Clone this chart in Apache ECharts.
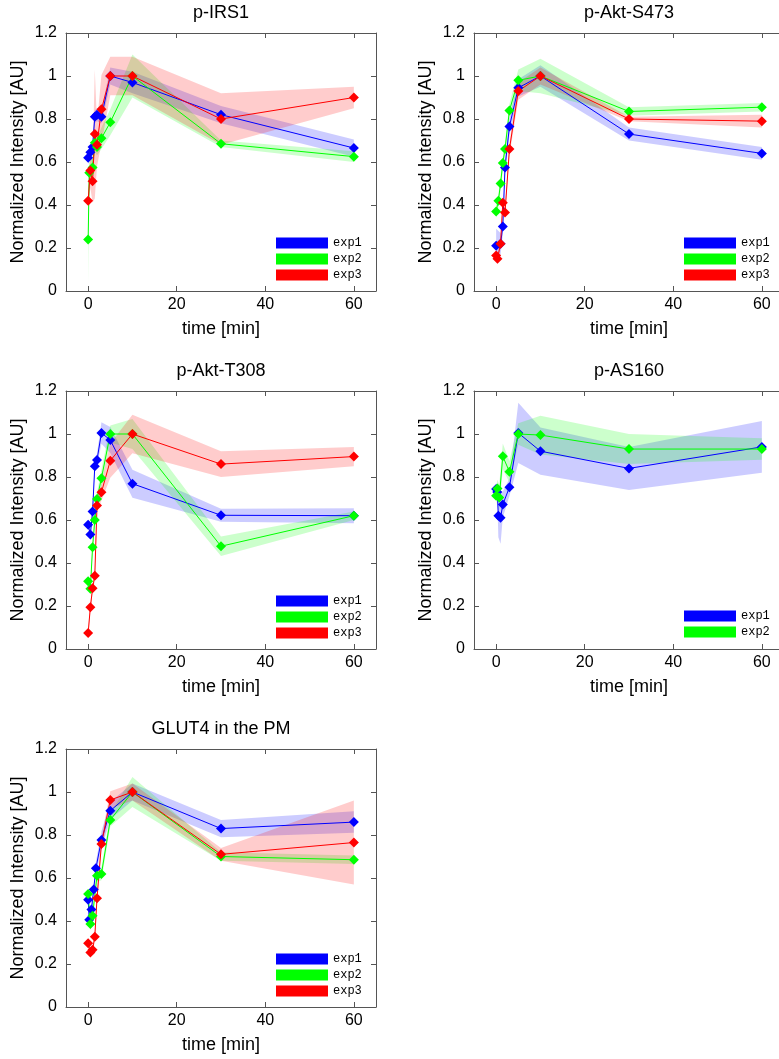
<!DOCTYPE html>
<html>
<head>
<meta charset="utf-8">
<script src="https://cdn.jsdelivr.net/npm/echarts@6/dist/echarts.min.js"></script>
<style>html,body{margin:0;padding:0;background:#fff}#chart{width:779px;height:1059px}</style>
</head>
<body>
<div id="chart"></div>
<script>
// ---- data (time in min, normalized intensity, half-width of shaded band) ----
const panelTitles = ['p-IRS1', 'p-Akt-S473', 'p-Akt-T308', 'p-AS160', 'GLUT4 in the PM'];
const expNames = ['exp1', 'exp2', 'exp3'];
const xTicks = [0, 20, 40, 60];

// p-IRS1
const irs1_t1 = [0, 0.5, 1, 1.5, 2, 3, 5, 10, 30, 60];
const irs1_v1 = [0.62, 0.645, 0.67, 0.81, 0.82, 0.81, 1.0, 0.97, 0.82, 0.665];
const irs1_e1 = [0.03, 0.03, 0.03, 0.03, 0.03, 0.03, 0.04, 0.05, 0.04, 0.04];
const irs1_t2 = [0, 0.25, 1, 1.5, 2, 3, 5, 10, 30, 60];
const irs1_v2 = [0.24, 0.55, 0.575, 0.69, 0.67, 0.71, 0.785, 1.0, 0.685, 0.625];
const irs1_e2 = [0.21, 0.05, 0.05, 0.04, 0.04, 0.05, 0.06, 0.1, 0.015, 0.025];
const irs1_t3 = [0, 0.5, 1, 1.5, 2, 3, 5, 10, 30, 60];
const irs1_v3 = [0.42, 0.56, 0.51, 0.73, 0.68, 0.845, 1.0, 1.0, 0.80, 0.90];
const irs1_e3 = [0.05, 0.08, 0.1, 0.3, 0.1, 0.16, 0.09, 0.09, 0.12, 0.05];

// p-Akt-S473
const s473_t1 = [0, 1, 1.5, 2, 3, 5, 10, 30, 60];
const s473_v1 = [0.21, 0.22, 0.30, 0.575, 0.765, 0.945, 1.0, 0.73, 0.64];
const s473_e1 = [0.08, 0.05, 0.04, 0.04, 0.04, 0.04, 0.05, 0.03, 0.03];
const s473_t2 = [0, 0.5, 1, 1.5, 2, 3, 5, 10, 30, 60];
const s473_v2 = [0.37, 0.42, 0.50, 0.595, 0.66, 0.84, 0.98, 1.0, 0.835, 0.855];
const s473_e2 = [0.03, 0.03, 0.03, 0.03, 0.03, 0.03, 0.05, 0.08, 0.02, 0.02];
const s473_t3 = [0, 0.3, 1, 1.5, 2, 3, 5, 10, 30, 60];
const s473_v3 = [0.165, 0.15, 0.22, 0.41, 0.365, 0.66, 0.93, 1.0, 0.80, 0.79];
const s473_e3 = [0.02, 0.02, 0.02, 0.02, 0.02, 0.03, 0.04, 0.04, 0.01, 0.03];

// p-Akt-T308
const t308_t1 = [0, 0.5, 1, 1.5, 2, 3, 5, 10, 30, 60];
const t308_v1 = [0.578, 0.532, 0.64, 0.85, 0.879, 1.005, 0.972, 0.769, 0.622, 0.62];
const t308_e1 = [0.02, 0.02, 0.02, 0.02, 0.03, 0.05, 0.06, 0.065, 0.03, 0.035];
const t308_t2 = [0, 0.5, 1, 1.5, 2, 3, 5, 10, 30, 60];
const t308_v2 = [0.315, 0.28, 0.473, 0.60, 0.698, 0.794, 1.0, 1.0, 0.478, 0.62];
const t308_e2 = [0.02, 0.02, 0.02, 0.03, 0.03, 0.04, 0.04, 0.07, 0.045, 0.02];
const t308_t3 = [0, 0.5, 1, 1.5, 2, 3, 5, 10, 30, 60];
const t308_v3 = [0.074, 0.194, 0.282, 0.341, 0.667, 0.729, 0.876, 1.0, 0.86, 0.895];
const t308_e3 = [0.02, 0.02, 0.02, 0.02, 0.03, 0.04, 0.08, 0.09, 0.06, 0.045];

// p-AS160
const as160_t1 = [0, 0.25, 0.5, 1, 1.5, 3, 5, 10, 30, 60];
const as160_v1 = [0.744, 0.73, 0.62, 0.61, 0.672, 0.752, 1.005, 0.92, 0.84, 0.94];
const as160_e1 = [0.03, 0.03, 0.1, 0.12, 0.06, 0.04, 0.14, 0.11, 0.10, 0.12];
const as160_t2 = [0, 0.3, 0.7, 1.5, 3, 5, 10, 30, 60];
const as160_v2 = [0.713, 0.747, 0.705, 0.896, 0.825, 1.0, 0.995, 0.93, 0.93];
const as160_e2 = [0.04, 0.04, 0.06, 0.06, 0.05, 0.05, 0.09, 0.07, 0.05];

// GLUT4 in the PM
const glut_t1 = [0, 0.25, 0.75, 1.25, 1.75, 3, 5, 10, 30, 60];
const glut_v1 = [0.499, 0.406, 0.453, 0.546, 0.645, 0.777, 0.913, 1.0, 0.83, 0.86];
const glut_e1 = [0.03, 0.03, 0.03, 0.03, 0.03, 0.04, 0.04, 0.04, 0.04, 0.05];
const glut_t2 = [0, 0.5, 1, 2, 3, 5, 10, 30, 60];
const glut_v2 = [0.526, 0.386, 0.425, 0.611, 0.619, 0.87, 1.0, 0.70, 0.685];
const glut_e2 = [0.03, 0.03, 0.03, 0.03, 0.03, 0.03, 0.07, 0.02, 0.02];
const glut_t3 = [0, 0.5, 1, 1.5, 2, 3, 5, 10, 30, 60];
const glut_v3 = [0.296, 0.254, 0.266, 0.327, 0.506, 0.758, 0.963, 1.0, 0.71, 0.765];
const glut_e3 = [0.02, 0.02, 0.02, 0.02, 0.03, 0.03, 0.04, 0.04, 0.03, 0.195];

// ---- layout / style ----
const lineColors = ['#0000ff', '#00ff00', '#ff0000'];
const bandColors = ['rgba(0,0,255,0.2)', 'rgba(0,255,0,0.2)', 'rgba(255,0,0,0.2)'];
const panelPos = [[66, 33], [474, 33], [66, 391], [474, 391], [66, 749]];
const GW = 310, GH = 258;
const FONT = '"Liberation Sans", Arial, sans-serif';
const axisCol = '#555';

const panelData = [
  [[irs1_t1, irs1_v1, irs1_e1], [irs1_t2, irs1_v2, irs1_e2], [irs1_t3, irs1_v3, irs1_e3]],
  [[s473_t1, s473_v1, s473_e1], [s473_t2, s473_v2, s473_e2], [s473_t3, s473_v3, s473_e3]],
  [[t308_t1, t308_v1, t308_e1], [t308_t2, t308_v2, t308_e2], [t308_t3, t308_v3, t308_e3]],
  [[as160_t1, as160_v1, as160_e1], [as160_t2, as160_v2, as160_e2]],
  [[glut_t1, glut_v1, glut_e1], [glut_t2, glut_v2, glut_e2], [glut_t3, glut_v3, glut_e3]]
];

const grid = [], xAxis = [], yAxis = [], series = [], title = [], legend = [];

panelData.forEach((exps, p) => {
  const [L, T] = panelPos[p];
  grid.push({ left: L, top: T, width: GW, height: GH, outerBoundsMode: 'none', containLabel: false });
  title.push({ text: panelTitles[p], left: L + GW / 2, top: T - 29, textAlign: 'center', padding: 0,
    textStyle: { fontFamily: FONT, fontSize: 18, fontWeight: 'normal', color: '#000' } });
  const tickCommon = { show: true, inside: true, length: 5, lineStyle: { color: axisCol, width: 1 } };
  // bottom x axis
  xAxis.push({ type: 'value', gridIndex: p, position: 'bottom', min: -5, max: 65,
    name: 'time [min]', nameLocation: 'middle', nameGap: 29,
    nameTextStyle: { fontFamily: FONT, fontSize: 18, color: '#000' },
    axisLine: { show: true, onZero: false, lineStyle: { color: axisCol, width: 1 } },
    axisTick: Object.assign({ customValues: xTicks }, tickCommon),
    axisLabel: { customValues: xTicks, margin: 6, fontFamily: FONT, fontSize: 16, color: '#000' },
    splitLine: { show: false } });
  // top x axis (box)
  xAxis.push({ type: 'value', gridIndex: p, position: 'top', min: -5, max: 65,
    axisLine: { show: true, onZero: false, lineStyle: { color: axisCol, width: 1 } },
    axisTick: Object.assign({ customValues: xTicks }, tickCommon),
    axisLabel: { show: false }, splitLine: { show: false } });
  // left y axis
  yAxis.push({ type: 'value', gridIndex: p, position: 'left', min: 0, max: 1.2, interval: 0.2,
    name: 'Normalized Intensity [AU]', nameLocation: 'middle', nameGap: 39,
    nameTextStyle: { fontFamily: FONT, fontSize: 18, color: '#000' },
    axisLine: { show: true, onZero: false, lineStyle: { color: axisCol, width: 1 } },
    axisTick: tickCommon,
    axisLabel: { margin: 9, fontFamily: FONT, fontSize: 16, color: '#000' },
    splitLine: { show: false } });
  // right y axis (box)
  yAxis.push({ type: 'value', gridIndex: p, position: 'right', min: 0, max: 1.2, interval: 0.2,
    axisLine: { show: true, onZero: false, lineStyle: { color: axisCol, width: 1 } },
    axisTick: tickCommon, axisLabel: { show: false }, splitLine: { show: false } });

  const ax = 2 * p;
  exps.forEach(([t, v, e], k) => {
    const band = t.map((x, i) => [x, v[i] - e[i], v[i] + e[i]]);
    series.push({
      type: 'custom', name: 'band' + p + '_' + k, xAxisIndex: ax, yAxisIndex: ax, silent: true, z: 1,
      data: band, encode: { x: 0, y: [1, 2] },
      renderItem: (params, api) => {
        if (params.dataIndex !== 0) return null;
        const up = band.map(d => api.coord([d[0], d[2]]));
        const lo = band.map(d => api.coord([d[0], d[1]])).reverse();
        return { type: 'polygon', shape: { points: up.concat(lo) }, style: { fill: bandColors[k] } };
      }
    });
  });
  exps.forEach(([t, v], k) => {
    series.push({
      type: 'line', name: expNames[k], xAxisIndex: ax, yAxisIndex: ax, z: 3,
      data: t.map((x, i) => [x, v[i]]),
      symbol: 'diamond', symbolSize: 10, showSymbol: true,
      lineStyle: { color: lineColors[k], width: 1 },
      itemStyle: { color: lineColors[k] },
      emphasis: { disabled: true }
    });
  });
  const nExp = exps.length;
  legend.push({
    data: expNames.slice(0, nExp), orient: 'vertical', icon: 'rect',
    left: L + 210, top: T + GH - 54 + (3 - nExp) * 15,
    itemWidth: 52, itemHeight: 11, itemGap: 4, padding: 0, selectedMode: false,
    textStyle: { fontFamily: '"Liberation Mono", "Courier New", monospace', fontSize: 12, color: '#000' }
  });
});

const chart = echarts.init(document.getElementById('chart'), null, { renderer: 'canvas' });
chart.setOption({ animation: false, backgroundColor: '#fff', title, legend, grid, xAxis, yAxis, series });
</script>
</body>
</html>
